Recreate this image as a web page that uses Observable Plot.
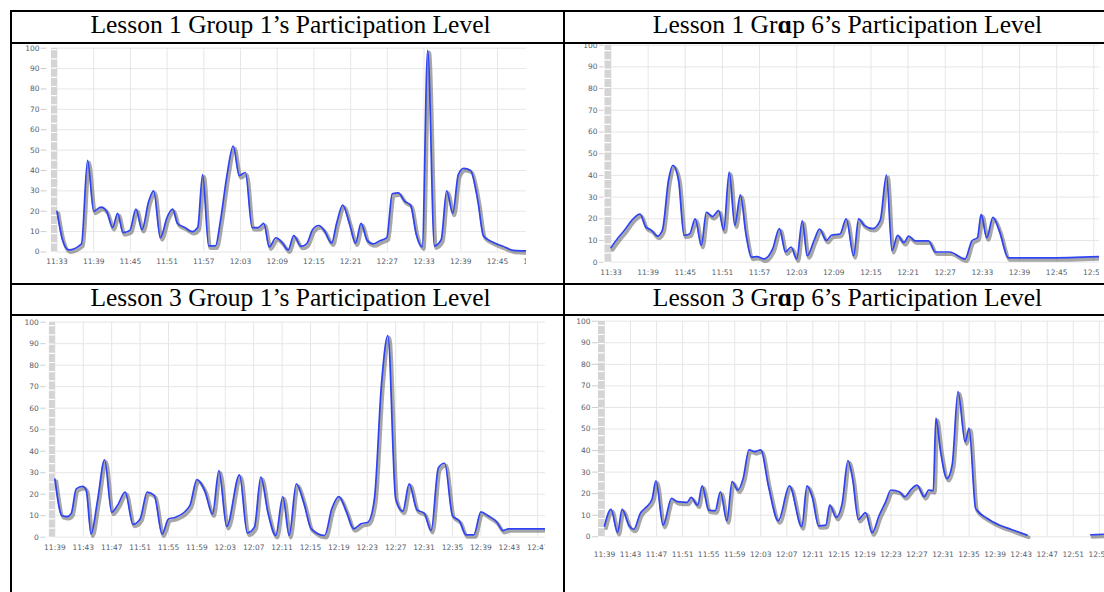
<!DOCTYPE html>
<html>
<head>
<meta charset="utf-8">
<script src="https://cdn.jsdelivr.net/npm/d3@7"></script>
<script src="https://cdn.jsdelivr.net/npm/@observablehq/plot@0.6"></script>
<style>
  html, body { margin: 0; padding: 0; background: #fff; }
  body { width: 1104px; height: 592px; overflow: hidden; position: relative; }
  .rule { position: absolute; background: #000; z-index: 5; }
  .title { position: absolute; width: 600px; text-align: center; white-space: nowrap;
           font-family: "Liberation Serif", "Times New Roman", serif; font-size: 25.5px; line-height: 1; color: #000; }
  .chart { position: absolute; overflow: hidden; }
  .chart svg { display: block; background: transparent; }
  .alpha { font-weight: bold; }
</style>
</head>
<body>
<script>
// ---------- data ----------
const yTicks = [0, 10, 20, 30, 40, 50, 60, 70, 80, 90, 100];

// Lesson 1 Group 1
const l1g1Start = "11:33";
const l1g1Min = [0,0.9,1.9,4,5,6,7.2,8.1,9.1,9.9,10.8,11.9,12.9,13.9,15,15.8,16.9,18,18.9,19.7,20.9,22.1,23,23.8,24.8,25.9,26.7,27.8,28.8,29.8,30.8,31.9,32.9,33.8,34.7,35.8,36.7,37.8,38.7,39.9,40.8,41.8,42.8,43.7,44.9,45.7,46.7,47.8,48.8,49.7,50.7,51.7,52.7,53.9,54.8,55.8,56.8,57.8,58.7,59.7,60.6,61.7,62.8,63.7,64.7,65.6,66.5,67.6,68.8,69.7,71.1,72.9,74.6,76.8];
const l1g1Val = [20,6,1,4,45,20,22,20,12,19,9.5,10.5,21,11,25,30,7,17,21,14,12,10,12,38,3,3,15,38,52,37.5,39,12,12,14,2.5,7,5,1,8,2.8,4,11,13,10.5,4.4,14,23,14,4.4,14,5.7,4,5.4,7,28.5,29,25,23,9,2.5,99,3,6,30,19,38,41,40,25,8,5,2.8,0.8,0.5];
const l1g1Ticks = ["11:33","11:39","11:45","11:51","11:57","12:03","12:09","12:15","12:21","12:27","12:33","12:39","12:45","12:51"];

// Lesson 1 Group 6
const l1g6Start = "11:33";
const l1g6Min = [0,1.1,2.2,3.4,4.7,5.6,6.5,7.5,8.3,9.3,10,10.9,11.8,12.7,13.6,14.6,15.4,16.4,17.4,18.2,19.1,20,20.9,21.8,22.7,23.6,24.7,26.1,27.2,28.2,29.1,30,30.9,31.7,32.8,33.7,34.8,35.6,37,38,39.2,40,40.9,42.3,43.5,44.5,45.4,46.3,47.3,48.1,49.1,51.3,52.4,54.7,57.2,58.3,59.2,59.8,60.7,61.7,62.7,64.2,70.4,78.9];
const l1g6Val = [6.7,11,14.8,19.4,22.2,16.3,14.8,12,14.8,38,44.6,38,12.4,13,20,7.8,23,21,23.8,14.8,41.5,17,31,13,2.3,2.6,1.5,6,15.5,4.7,7,1.5,19,3,10,15.2,10,12.4,13,20,3,20,17,15.5,19.4,40.1,5.4,12.4,9,12,9.8,9.8,4.7,4.7,1.5,9.8,11.3,22,11.3,20.7,14.8,2,2,2.6];
const l1g6Ticks = ["11:33","11:39","11:45","11:51","11:57","12:03","12:09","12:15","12:21","12:27","12:33","12:39","12:45","12:51"];

// Lesson 3 Group 1
const l3g1Start = "11:39";
const l3g1Min = [0,1,1.75,2.3,3,3.9,4.4,5.1,6,7,8,8.8,9.9,11,12,13,14,15.1,16,17,19,20,21.1,22.2,23.1,24.2,26,27.1,28.1,29,30,31.1,32.1,33,34,35.1,36.1,38,39,40,41,42.1,43.1,44.1,45,46,46.9,48,49,49.9,51,52,53,54,54.9,56,57,57.9,59,60,61,62.2,63.1,63.9,69.1];
const l3g1Val = [27,10,9.6,11,22.5,23.6,22,1.5,17,36,11.6,14.7,21,6,8.5,21,19.4,1.5,8.5,9.3,14.7,26.8,21.7,10.8,31,5,29,2,4.6,27.9,11.6,0.8,18.9,0.8,24.8,15.5,3.9,0.8,13.2,18.9,12.4,3.9,6.2,7,17.8,71.3,93.8,17.8,12.1,24.8,12.7,11.2,3.1,32.2,34.4,10,7.4,1.1,1.1,11.8,10,7.2,3.1,3.9,3.9];
const l3g1Ticks = ["11:39","11:43","11:47","11:51","11:55","11:59","12:03","12:07","12:11","12:15","12:19","12:23","12:27","12:31","12:35","12:39","12:43","12:47"];

// Lesson 3 Group 6
const l3g6Start = "11:39";
const l3g6Min = [0,1,2,2.7,3.8,4.5,5.5,6.5,7.3,7.9,9,10.3,11.2,12.7,13.3,14.3,15,16,17,17.8,18.8,19.6,20.5,21.3,22.2,23.1,24,25.2,26.7,28.4,30.3,31.1,31.9,32.9,34,34.6,35.6,36.5,37.4,38.1,39,40.1,41.1,42.2,43.2,44,45.3,46.1,47.1,48,49.1,49.8,50.5,50.9,51.6,52.6,53.4,54.3,55.4,56,57,58.8,60.7,62.5,64.9,65.5,74.7,76.8];
const l3g6Val = [5,12.7,2,12.7,5,3.5,10.9,14,17.4,26,5.4,17.8,16.3,16,18.3,14.7,23.6,12.4,12.1,20.9,7.4,25.6,21.7,27.1,40.3,39.5,40.3,23.3,7.4,23.6,4.7,23.6,18.6,5.1,5.4,14.7,9,15.5,35.3,27.1,8,11.2,1.9,10,16.3,21.7,20.9,18.6,22,24,18.6,21.7,21.4,55,40,27,33.3,67.4,44,50.4,13.2,8.5,5.4,3.4,0.8,null,0.9,1.2];
const l3g6Ticks = ["11:39","11:43","11:47","11:51","11:55","11:59","12:03","12:07","12:11","12:15","12:19","12:23","12:27","12:31","12:35","12:39","12:43","12:47","12:51","12:55"];

// ---------- helpers ----------
const parseT = s => { const [h, m] = s.split(":").map(Number); return h * 60 + m; };
const fmtT = v => { const h = Math.floor(v / 60), m = Math.round(v - h * 60); return h + ":" + String(m).padStart(2, "0"); };

function panel(cfg) {
  const s = parseT(cfg.start);
  const data = cfg.min.map((m, i) => ({t: s + m, v: cfg.val[i]}));
  const tickVals = cfg.ticks.map(parseT);
  const labelColor = "#56606c";
  const chart = Plot.plot({
    width: cfg.width,
    height: cfg.height,
    marginLeft: cfg.mL,
    marginRight: 0,
    marginTop: cfg.mT,
    marginBottom: cfg.mB,
    x: {domain: [s, s + cfg.span], axis: null},
    y: {domain: [0, 100], axis: null},
    style: {background: "transparent", fontFamily: "'DejaVu Sans', Verdana, sans-serif", fontSize: "7.5px", overflow: "hidden"},
    marks: [
      Plot.ruleY(yTicks, {y: d => d, stroke: "#e6e6e6", strokeWidth: 1}),
      Plot.ruleX(tickVals, {x: d => d, y1: 0, y2: 100, stroke: "#e6e6e6", strokeWidth: 1}),
      Plot.ruleX([s], {x: d => d, y1: 0, y2: 100, stroke: "#d4d4d4", strokeWidth: cfg.barW, dx: -cfg.barW / 2, strokeDasharray: "8 1.2"}),
      Plot.axisY(yTicks, {anchor: "left", label: null, tickSize: cfg.ts, tickPadding: cfg.tp, dx: -cfg.te,
                          stroke: "#cdcdcd", fill: labelColor, fontSize: 7.5}),
      Plot.text(tickVals, {x: d => d, text: d => fmtT(d), frameAnchor: "bottom", dy: cfg.labelDy,
                           fill: labelColor, fontSize: 7.5, clip: false}),
      Plot.line(data, {x: "t", y: "v", curve: "monotone-x", stroke: "#5f5f5f", strokeOpacity: 0.55,
                       strokeWidth: 3.6, dx: 1.6, dy: 2.2}),
      Plot.line(data, {x: "t", y: "v", curve: "monotone-x", stroke: "#2f43f2", strokeWidth: 1.7})
    ]
  });
  const div = document.createElement("div");
  div.className = "chart";
  div.style.left = cfg.left + "px";
  div.style.top = cfg.top + "px";
  div.style.width = cfg.width + "px";
  div.style.height = cfg.height + "px";
  div.appendChild(chart);
  document.body.appendChild(div);
}

panel({start: l1g1Start, min: l1g1Min, val: l1g1Val, ticks: l1g1Ticks,
       left: 12, top: 44, width: 514, height: 240, mL: 44.5, mT: 3.7, mB: 32.5, span: 76.75,
       labelDy: 11.8, barW: 6, te: 10, ts: 6, tp: 1.5});
panel({start: l1g6Start, min: l1g6Min, val: l1g6Val, ticks: l1g6Ticks,
       left: 566, top: 44, width: 533, height: 240, mL: 44.5, mT: 0.7, mB: 22.3, span: 78.92,
       labelDy: 12.6, barW: 6.5, te: 7, ts: 4.5, tp: 2});
panel({start: l3g1Start, min: l3g1Min, val: l3g1Val, ticks: l3g1Ticks,
       left: 12, top: 316, width: 533, height: 276, mL: 42.4, mT: 5.7, mB: 55.3, span: 69.1,
       labelDy: 12.6, barW: 6, te: 9, ts: 5, tp: 2});
panel({start: l3g6Start, min: l3g6Min, val: l3g6Val, ticks: l3g6Ticks,
       left: 566, top: 316, width: 538, height: 276, mL: 38, mT: 4.7, mB: 55.7, span: 76.8,
       labelDy: 19.7, barW: 6.5, te: 6, ts: 6, tp: 2});

// ---------- table frame ----------
function rule(l, t, w, h) {
  const d = document.createElement("div");
  d.className = "rule";
  Object.assign(d.style, {left: l + "px", top: t + "px", width: w + "px", height: h + "px"});
  document.body.appendChild(d);
}
rule(10, 10, 1094, 2);
rule(10, 42, 1094, 2);
rule(10, 283, 1094, 2);
rule(10, 314, 1094, 2);
rule(10, 10, 2, 582);
rule(563, 10, 2, 582);

function title(html, cx, top) {
  const d = document.createElement("div");
  d.className = "title";
  d.style.left = (cx - 300) + "px";
  d.style.top = top + "px";
  d.innerHTML = html;
  document.body.appendChild(d);
}
title("Lesson 1 Group 1’s Participation Level", 290.5, 12.4);
title("Lesson 1 Gr<span class=\"alpha\">ɑ</span>p 6’s Participation Level", 847.5, 12.4);
title("Lesson 3 Group 1’s Participation Level", 290.5, 285.1);
title("Lesson 3 Gr<span class=\"alpha\">ɑ</span>p 6’s Participation Level", 847.5, 285.1);
</script>
</body>
</html>
